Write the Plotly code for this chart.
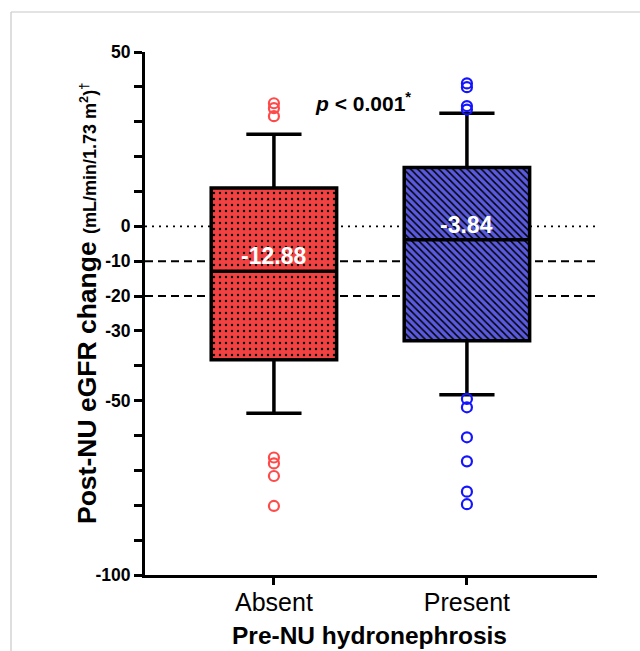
import plotly.graph_objects as go

# ---- data ----
categories = ["Absent", "Present"]
q1 = [-38.3, -32.8]
median = [-12.88, -3.84]
q3 = [11.0, 16.9]
lower_whisker = [-53.6, -48.3]
upper_whisker = [26.4, 32.4]
outliers_absent = [35.3, 33.9, 31.6, -66.3, -68.0, -71.6, -80.2]
outliers_present = [41.0, 39.9, 34.5, 33.5, -49.5, -51.9, -60.5, -67.4, -76.1, -79.7]
median_labels = ["-12.88", "-3.84"]
ref_lines = [0, -10, -20]
ytick_vals = [50, 40, 30, 20, 10, 0, -10, -20, -30, -40, -50, -60, -70, -80, -90, -100]
ytick_text = ["50", "", "", "", "", "0", "-10", "-20", "-30", "", "-50", "", "", "", "", "-100"]

fill_colors = ["#F24141", "#5A5AE0"]
patterns = [".", "\\"]
outlier_colors = ["#FF4A4A", "#1414FF"]

W, H = 640, 651
ML, MR, MT, MB = 145, 43, 52, 76
pw, ph = W - ML - MR, H - MT - MB
FONT = "Liberation Sans, Arial"

def px_x(x):
    return (x - ML) / pw

def px_y(y):
    return (H - MB - y) / ph

fig = go.Figure()

# box fills with patterns
for i, c in enumerate(categories):
    fig.add_trace(go.Bar(
        x=[c], y=[q3[i] - q1[i]], base=[q1[i]], width=0.65,
        marker=dict(color=fill_colors[i], line=dict(width=0),
                    pattern=dict(shape=patterns[i], fgcolor="black",
                                 bgcolor=fill_colors[i], size=6 if i == 0 else 5,
                                 solidity=0.12 if i == 0 else 0.3,
                                 fillmode="replace")),
        showlegend=False, hoverinfo="skip"))

fig.add_trace(go.Box(
    x=categories, q1=q1, median=median, q3=q3,
    lowerfence=lower_whisker, upperfence=upper_whisker,
    width=0.65, whiskerwidth=0.44, boxpoints=False,
    fillcolor="rgba(0,0,0,0)", line=dict(color="black", width=3.5),
    showlegend=False))

for i, (c, vals) in enumerate(zip(categories, [outliers_absent, outliers_present])):
    fig.add_trace(go.Scatter(
        x=[c] * len(vals), y=vals, mode="markers",
        marker=dict(symbol="circle-open", size=10, color=outlier_colors[i],
                    line=dict(width=2.2, color=outlier_colors[i])),
        showlegend=False))

# reference lines
for v in ref_lines:
    fig.add_shape(type="line", xref="paper", yref="y", x0=0, x1=1, y0=v, y1=v,
                  line=dict(color="black", width=1.6 if v == 0 else 2,
                            dash="2px,5px" if v == 0 else "8px,5px"),
                  layer="below")

# median labels
for i, c in enumerate(categories):
    fig.add_annotation(x=i, y=median[i], text="<b>" + median_labels[i] + "</b>",
                       showarrow=False, xanchor="center", yanchor="bottom", yshift=0,
                       font=dict(color="white", size=23, family=FONT))

fig.add_annotation(x=0.46, y=35.8, text="<b><i>p</i> < 0.001<sup>*</sup></b>",
                   showarrow=False, xanchor="center", yanchor="middle",
                   font=dict(size=21, color="black", family=FONT))

# y title
fig.add_annotation(xref="paper", yref="paper", x=px_x(87), y=px_y(304), textangle=-90,
                   xanchor="center", yanchor="middle",
                   text="<b>Post-NU eGFR change <span style='font-size:18px'>(mL/min/1.73 m<sup>2</sup>)<sup>†</sup></span></b>",
                   showarrow=False, font=dict(size=26.5, color="black", family=FONT))

# x title
fig.add_annotation(xref="paper", yref="paper", x=px_x(369), y=px_y(635),
                   xanchor="center", yanchor="middle",
                   text="<b>Pre-NU hydronephrosis</b>", showarrow=False,
                   font=dict(size=24.5, color="black", family=FONT))

# outer border (cropped frame)
fig.add_shape(type="line", xref="paper", yref="paper", x0=px_x(11), x1=px_x(640),
              y0=px_y(12), y1=px_y(12), line=dict(color="#c8c8c8", width=1.2))
fig.add_shape(type="line", xref="paper", yref="paper", x0=px_x(11), x1=px_x(11),
              y0=px_y(12), y1=px_y(651), line=dict(color="#c8c8c8", width=1.2))

fig.update_layout(
    width=W, height=H, margin=dict(l=ML, r=MR, t=MT, b=MB),
    plot_bgcolor="white", paper_bgcolor="white",
    barmode="overlay", boxmode="overlay",
    font=dict(family=FONT, color="black"),
    xaxis=dict(type="category", range=[-0.668, 1.674], showgrid=False, zeroline=False,
               showline=True, linecolor="black", linewidth=3,
               ticks="outside", ticklen=7, tickwidth=3, tickcolor="black",
               ticklabelstandoff=-4,
               tickfont=dict(size=25, color="black")),
    yaxis=dict(range=[-100, 50], showgrid=False, zeroline=False,
               showline=True, linecolor="black", linewidth=3,
               tickvals=ytick_vals, ticktext=ytick_text,
               ticks="outside", ticklen=8, tickwidth=3, tickcolor="black",
               tickfont=dict(size=17.5, color="black", weight="bold")),
)

fig.write_html("out.html")
